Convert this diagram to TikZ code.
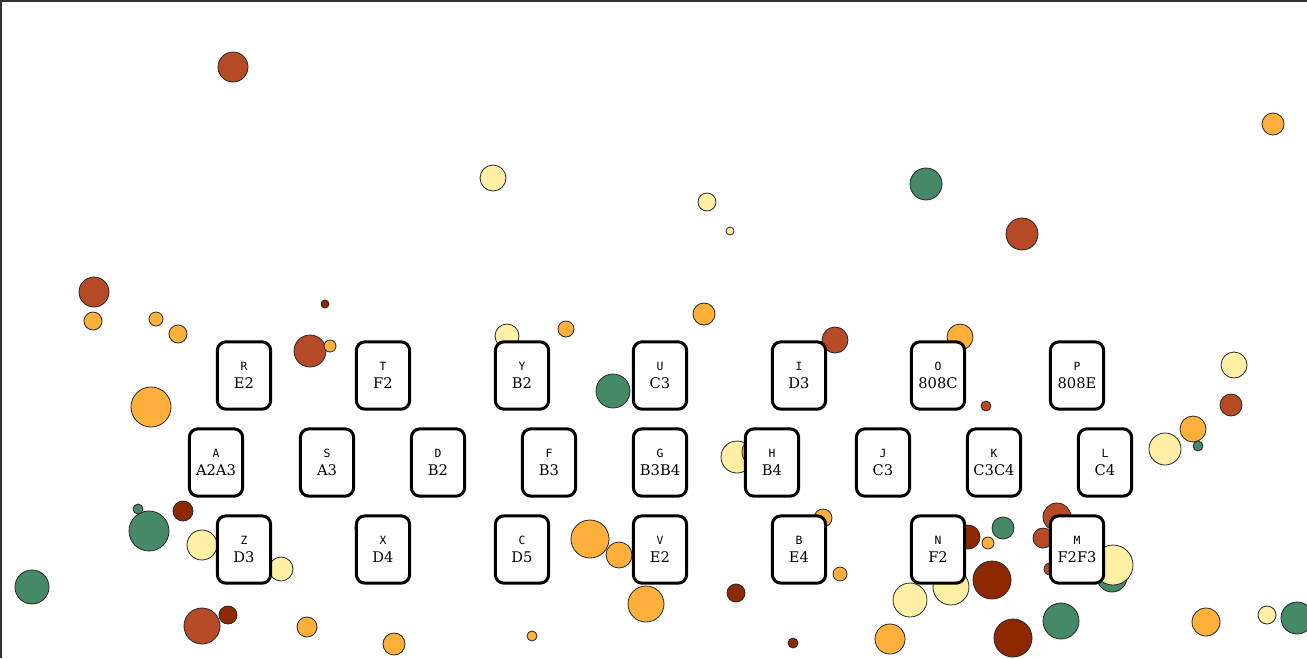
\documentclass[tikz,border=0pt]{standalone}
\usepackage{fontspec}
\setmainfont{DejaVu Serif}
\setmonofont{DejaVu Sans Mono}
\usetikzlibrary{positioning}

\definecolor{palYellow}{HTML}{FFF0A5}
\definecolor{palOrange}{HTML}{FFB03B}
\definecolor{palRust}{HTML}{B64926}
\definecolor{palBrown}{HTML}{8E2800}
\definecolor{palGreen}{HTML}{468966}
\definecolor{frameGray}{HTML}{333333}

\newcommand\keyglyph{\ttfamily\fontsize{8.5pt}{13.2pt}\selectfont}

\tikzset{
  dot/.style={draw=black!85, line width=0.6pt},
  yel/.style={dot, fill=palYellow},
  org/.style={dot, fill=palOrange},
  rst/.style={dot, fill=palRust},
  brn/.style={dot, fill=palBrown},
  grn/.style={dot, fill=palGreen},
  keycap/.style={draw, line width=2.25pt, rounded corners=6.5pt, fill=white,
    minimum width=40pt, minimum height=50.5pt, inner sep=0pt, align=center,
    font=\fontsize{11pt}{13.2pt}\selectfont}
}

\begin{document}
\begin{tikzpicture}[x=0.75pt, y=0.75pt]
  \useasboundingbox (0,0) rectangle (1307,-658);
  % frame on the top and left edges
  \draw[frameGray, line width=3pt] (0,-658) -- (0,0) -- (1307,0);

  % scattered circles, upper part
  \draw[rst] (233,-67) circle (15);
  \draw[org] (1273,-124) circle (11);
  \draw[yel] (493,-178) circle (13);
  \draw[grn] (926,-184) circle (16);
  \draw[yel] (707,-202) circle (9);
  \draw[yel] (730,-231) circle (4);
  \draw[rst] (1022,-234) circle (16);
  \draw[rst] (94,-292) circle (15);
  \draw[org] (93,-321) circle (9);
  \draw[org] (156,-319) circle (7);
  \draw[org] (178,-334) circle (9);
  \draw[org] (151,-407) circle (20);
  \draw[brn] (325,-304) circle (4);
  \draw[rst] (310,-351) circle (16);
  \draw[org] (330,-346) circle (6);
  \draw[yel] (507,-336) circle (12);
  \draw[org] (566,-329) circle (8);
  \draw[grn] (613,-391) circle (17);
  \draw[org] (704,-314) circle (11);
  \draw[rst] (835,-340) circle (13);
  \draw[org] (960,-337) circle (13);
  \draw[rst] (986,-406) circle (5);
  \draw[yel] (737,-457) circle (16);
  \draw[org] (756,-452) circle (14);
  \draw[yel] (1234,-365) circle (13);
  \draw[rst] (1231,-405) circle (11);
  \draw[org] (1193,-429) circle (13);
  \draw[grn] (1198,-446) circle (5);
  \draw[yel] (1165,-449) circle (16);

  % scattered circles, lower part
  \draw[grn] (149,-531) circle (20);
  \draw[grn] (138,-509) circle (5);
  \draw[brn] (183,-511) circle (10);
  \draw[yel] (202,-545) circle (15);
  \draw[yel] (281,-569) circle (12);
  \draw[grn] (32,-587) circle (17);
  \draw[rst] (202,-626) circle (18);
  \draw[brn] (228,-615) circle (9);
  \draw[org] (307,-627) circle (10);
  \draw[org] (394,-644) circle (11);
  \draw[org] (363,-528) circle (8);
  \draw[org] (590,-539) circle (19);
  \draw[org] (619,-555) circle (13);
  \draw[org] (646,-604) circle (18);
  \draw[brn] (736,-593) circle (9);
  \draw[org] (532,-636) circle (5);
  \draw[org] (823,-518) circle (9);
  \draw[org] (840,-574) circle (7);
  \draw[brn] (793,-643) circle (5);
  \draw[brn] (968,-537) circle (12);
  \draw[org] (988,-543) circle (6);
  \draw[grn] (1003,-528) circle (11);
  \draw[brn] (992,-580) circle (19);
  \draw[yel] (951,-587) circle (18);
  \draw[yel] (910,-600) circle (17);
  \draw[org] (890,-639) circle (15);
  \draw[brn] (1013,-638) circle (19);
  \draw[grn] (1061,-621) circle (18);
  \draw[rst] (1057,-517) circle (14);
  \draw[rst] (1043,-538) circle (10);
  \draw[rst] (1050,-569) circle (6);
  \draw[grn] (1112,-577) circle (15);
  \draw[yel] (1113,-565) circle (20);
  \draw[org] (1206,-622) circle (14);
  \draw[yel] (1267,-615) circle (9);
  \draw[grn] (1297,-618) circle (16);

  % top row of keys
  \node[keycap] (kR) at (244,-375.5) {{\keyglyph R}\\E2};
  \node[keycap] (kT) at (383,-375.5) {{\keyglyph T}\\F2};
  \node[keycap] (kY) at (522,-375.5) {{\keyglyph Y}\\B2};
  \node[keycap] (kU) at (660,-375.5) {{\keyglyph U}\\C3};
  \node[keycap] (kI) at (799,-375.5) {{\keyglyph I}\\D3};
  \node[keycap] (kO) at (938,-375.5) {{\keyglyph O}\\808C};
  \node[keycap] (kP) at (1077,-375.5) {{\keyglyph P}\\808E};

  % middle row of keys
  \node[keycap] (kA) at (216,-462.5) {{\keyglyph A}\\A2A3};
  \node[keycap] (kS) at (327,-462.5) {{\keyglyph S}\\A3};
  \node[keycap] (kD) at (438,-462.5) {{\keyglyph D}\\B2};
  \node[keycap] (kF) at (549,-462.5) {{\keyglyph F}\\B3};
  \node[keycap] (kG) at (660,-462.5) {{\keyglyph G}\\B3B4};
  \node[keycap] (kH) at (772,-462.5) {{\keyglyph H}\\B4};
  \node[keycap] (kJ) at (883,-462.5) {{\keyglyph J}\\C3};
  \node[keycap] (kK) at (994,-462.5) {{\keyglyph K}\\C3C4};
  \node[keycap] (kL) at (1105,-462.5) {{\keyglyph L}\\C4};

  % bottom row of keys
  \node[keycap] (kZ) at (244,-549.5) {{\keyglyph Z}\\D3};
  \node[keycap] (kX) at (383,-549.5) {{\keyglyph X}\\D4};
  \node[keycap] (kC) at (522,-549.5) {{\keyglyph C}\\D5};
  \node[keycap] (kV) at (660,-549.5) {{\keyglyph V}\\E2};
  \node[keycap] (kB) at (799,-549.5) {{\keyglyph B}\\E4};
  \node[keycap] (kN) at (938,-549.5) {{\keyglyph N}\\F2};
  \node[keycap] (kM) at (1077,-549.5) {{\keyglyph M}\\F2F3};
\end{tikzpicture}
\end{document}
